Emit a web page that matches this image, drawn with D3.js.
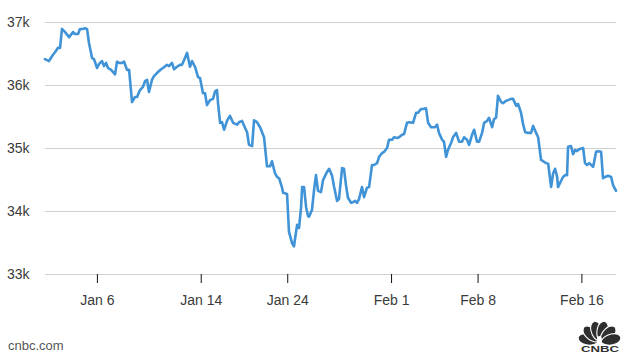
<!DOCTYPE html>
<html>
<head>
<meta charset="utf-8">
<script src="https://cdn.jsdelivr.net/npm/d3@7/dist/d3.min.js"></script>
<style>
  html, body { margin: 0; padding: 0; background: #fff; }
  svg { display: block; }
  text { font-family: "Liberation Sans", Arial, Helvetica, sans-serif; }
</style>
</head>
<body>
<svg id="chart" width="630" height="359"></svg>
<script>
// Time: trading-day offset from the Jan 3 open (one unit = one trading session)
const tDays = [
  0, .23, .46, .58, .75, .87, .98, 1.16, 1.39, 1.62, 1.73, 1.91, 2.02, 2.20, 2.31, 2.43, 2.54, 2.72, 2.83,
  3.01, 3.12, 3.29, 3.41, 3.53, 3.64, 3.82, 4.05, 4.16, 4.28, 4.45, 4.57, 4.74, 4.86,
  5.03, 5.20, 5.32, 5.49, 5.66, 5.78, 5.90, 6.01, 6.18, 6.30, 6.47, 6.71, 6.82,
  7.05, 7.17, 7.34, 7.46, 7.63, 7.80, 7.92, 8.09, 8.21, 8.38, 8.50, 8.67, 8.84, 8.96,
  9.13, 9.25, 9.36, 9.54, 9.71, 9.83, 9.94, 10.00, 10.12, 10.23, 10.35, 10.52, 10.64, 10.69, 10.87,
  11.10, 11.21, 11.39, 11.56, 11.68, 11.79, 11.97, 12.08, 12.25, 12.43, 12.66, 12.83,
  13.01, 13.12, 13.29, 13.41, 13.53, 13.70, 13.76, 13.99, 14.10, 14.28, 14.39, 14.51, 14.57, 14.68, 14.80, 14.86, 14.97,
  15.09, 15.20, 15.26, 15.43, 15.55, 15.66, 15.78, 15.95, 16.07, 16.30, 16.42, 16.59, 16.71, 16.88, 16.99,
  17.17, 17.28, 17.40, 17.51, 17.69, 17.80, 17.92, 18.03, 18.15, 18.32, 18.44, 18.61, 18.73, 18.90,
  19.02, 19.19, 19.31, 19.48, 19.60, 19.77, 19.88, 20.06, 20.17, 20.35, 20.46, 20.64, 20.75, 20.92,
  21.04, 21.27, 21.45, 21.56, 21.73, 21.85, 22.02, 22.14, 22.31, 22.54, 22.66, 22.77, 22.95,
  23.06, 23.18, 23.29, 23.47, 23.58, 23.76, 23.93, 24.10, 24.22, 24.39, 24.51, 24.68, 24.80, 24.97,
  25.09, 25.26, 25.38, 25.55, 25.66, 25.84, 25.95, 26.07, 26.18, 26.36, 26.47, 26.65, 26.76, 26.94,
  27.05, 27.23, 27.34, 27.51, 27.63, 27.75, 27.92, 28.09, 28.21, 28.38, 28.50, 28.67, 28.79, 28.96,
  29.08, 29.25, 29.36, 29.48, 29.60, 29.65, 29.83, 29.94, 30.06, 30.17, 30.23, 30.40, 30.52, 30.64, 30.75, 30.87,
  31.10, 31.21, 31.33, 31.45, 31.68, 31.85, 31.97, 32.14, 32.25, 32.37, 32.54, 32.72, 32.83, 33.00
];
const dowValues = [
  36410, 36380, 36480, 36520, 36590, 36590, 36890, 36840, 36760, 36840, 36810, 36810, 36890, 36890, 36900, 36890, 36670, 36430, 36410,
  36270, 36330, 36380, 36300, 36350, 36270, 36240, 36170, 36370, 36350, 36350, 36370, 36240, 36240,
  35730, 35810, 35810, 35920, 35970, 36060, 36080, 35890, 36080, 36140, 36190, 36250, 36270,
  36320, 36300, 36350, 36250, 36290, 36320, 36320, 36430, 36510, 36290, 36380, 36290, 36130, 36110,
  35870, 35870, 35680, 35760, 35780, 35900, 35920, 35710, 35400, 35410, 35290, 35430, 35490, 35510, 35400,
  35370, 35410, 35430, 35320, 35250, 35050, 35030, 35440, 35410, 35330, 35170, 34710,
  34710, 34790, 34600, 34540, 34520, 34370, 34290, 34270, 33670, 33490, 33440, 33670, 33780, 33730, 34060, 34380, 34380,
  34060, 33920, 33910, 34020, 34330, 34570, 34320, 34300, 34490, 34620, 34670, 34560, 34380, 34160, 34190,
  34680, 34670, 34400, 34210, 34130, 34140, 34160, 34130, 34190, 34380, 34220, 34370, 34380, 34730,
  34730, 34760, 34860, 34920, 34940, 35000, 35130, 35130, 35170, 35160, 35170, 35210, 35220, 35400,
  35410, 35400, 35560, 35560, 35620, 35620, 35630, 35400, 35330, 35330, 35370, 35240, 35130,
  35100, 34860, 34970, 35080, 35170, 35240, 35100, 35100, 35170, 35130, 35050, 35210, 35290, 35100,
  35100, 35240, 35400, 35430, 35480, 35330, 35460, 35480, 35830, 35730, 35710, 35750, 35760, 35780,
  35780, 35670, 35700, 35560, 35380, 35250, 35240, 35240, 35350, 35240, 35170, 34810, 34790, 34760,
  34750, 34380, 34590, 34670, 34540, 34380, 34480, 34540, 34570, 34570, 35020, 35030, 34900, 34970, 34950, 34980,
  35000, 34760, 34730, 34760, 34700, 34940, 34950, 34940, 34520, 34540, 34560, 34540, 34410, 34320
];
const xTickDays = [3, 9, 14, 20, 25, 31];
const xTickLabels = ["Jan 6", "Jan 14", "Jan 24", "Feb 1", "Feb 8", "Feb 16"];
const yTickValues = [33000, 34000, 35000, 36000, 37000];
const yTickLabels = ["33k", "34k", "35k", "36k", "37k"];

const svg = d3.select("#chart");
const x = d3.scaleLinear().domain([0, 33]).range([45, 616]);
const y = d3.scaleLinear().domain([33000, 37000]).range([274, 22]);

// gridlines
svg.append("g").selectAll("line").data(yTickValues).join("line")
  .attr("x1", 45).attr("x2", 616)
  .attr("y1", d => Math.round(y(d)) + 0.5).attr("y2", d => Math.round(y(d)) + 0.5)
  .attr("stroke", "#cfcfcf").attr("stroke-width", 1);

// y labels
svg.append("g").selectAll("text").data(yTickValues).join("text")
  .attr("x", 7).attr("y", d => y(d) + 5)
  .attr("font-size", 14).attr("fill", "#3a3a3a")
  .text((d, i) => yTickLabels[i]);

// x axis
const xAxis = d3.axisBottom(x).tickValues(xTickDays)
  .tickFormat((d, i) => xTickLabels[i]).tickSize(9).tickPadding(12);
const gx = svg.append("g").attr("transform", "translate(0,274)").call(xAxis);
gx.select(".domain").remove();
gx.selectAll(".tick line").attr("stroke", "#111");
gx.selectAll(".tick text").attr("font-size", 14).attr("fill", "#3a3a3a")
  .attr("font-family", "'Liberation Sans', Arial, sans-serif");

// line
const pts = tDays.map((t, i) => [t, dowValues[i]]);
svg.append("path").datum(pts)
  .attr("fill", "none").attr("stroke", "#3f93d6").attr("stroke-width", 2.6)
  .attr("stroke-linejoin", "round").attr("stroke-linecap", "round")
  .attr("d", d3.line().x(d => x(d[0])).y(d => y(d[1])));

// source
svg.append("text").attr("x", 8).attr("y", 350).attr("font-size", 13).attr("fill", "#555").text("cnbc.com");

// CNBC logo
const logo = svg.append("g").attr("transform", "translate(599.5,342.5)");
const angles = [-76, -45, -14, 14, 45, 76];
logo.selectAll("path").data(angles).join("path")
  .attr("d", "M0,-1 C-7.5,-7 -7,-20.5 0,-22 C7,-20.5 7.5,-7 0,-1 Z")
  .attr("transform", a => `rotate(${a})`)
  .attr("fill", "#2f2f2f").attr("stroke", "#fff").attr("stroke-width", 1.1);
logo.append("ellipse").attr("cx", 0).attr("cy", -2.5).attr("rx", 2.4).attr("ry", 4).attr("fill", "#fff");
svg.append("text").attr("x", 581).attr("y", 351.5)
  .attr("font-size", 8.5).attr("font-weight", "bold").attr("fill", "#2f2f2f")
  .attr("textLength", 38).attr("lengthAdjust", "spacingAndGlyphs").text("CNBC");
</script>
</body>
</html>
